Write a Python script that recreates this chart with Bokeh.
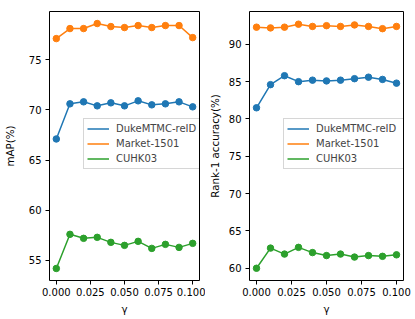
from bokeh.plotting import figure
from bokeh.layouts import row
from bokeh.models import FixedTicker, PrintfTickFormatter, Legend
from bokeh.embed import file_html
from bokeh.resources import INLINE

gamma = [0.0, 0.01, 0.02, 0.03, 0.04, 0.05, 0.06, 0.07, 0.08, 0.09, 0.10]

map_duke = [67.1, 70.6, 70.8, 70.4, 70.7, 70.4, 70.9, 70.5, 70.6, 70.8, 70.3]
map_market = [77.1, 78.1, 78.1, 78.6, 78.3, 78.2, 78.4, 78.2, 78.4, 78.4, 77.2]
map_cuhk = [54.2, 57.6, 57.2, 57.3, 56.8, 56.5, 56.9, 56.2, 56.6, 56.3, 56.7]

r1_duke = [81.5, 84.6, 85.8, 85.0, 85.2, 85.1, 85.2, 85.4, 85.6, 85.3, 84.8]
r1_market = [92.3, 92.2, 92.3, 92.7, 92.4, 92.5, 92.4, 92.6, 92.4, 92.1, 92.4]
r1_cuhk = [60.0, 62.7, 61.9, 62.8, 62.1, 61.7, 61.9, 61.5, 61.7, 61.6, 61.8]

series_names = ["DukeMTMC-reID", "Market-1501", "CUHK03"]
colors = ["#1f77b4", "#ff7f0e", "#2ca02c"]
x_ticks = [0.0, 0.025, 0.05, 0.075, 0.1]
map_ticks = [55, 60, 65, 70, 75]
r1_ticks = [60, 65, 70, 75, 80, 85, 90]

FONT = "DejaVu Sans"
FS = "10px"
FS_LABEL = "10.3px"


def make(width, border_left, border_right, yrange, yticks, ylabel, label_standoff, data):
    p = figure(width=width, height=319, x_range=(-0.005, 0.105), y_range=yrange,
               min_border_left=border_left, min_border_right=border_right,
               min_border_top=11, min_border_bottom=39,
               output_backend="svg", toolbar_location=None)
    p.grid.visible = False
    p.outline_line_color = "black"
    p.outline_line_width = 1
    p.outline_line_alpha = 1
    p.background_fill_color = "white"
    p.border_fill_color = "white"
    for ax in (p.xaxis[0], p.yaxis[0]):
        ax.axis_line_color = None
        ax.major_tick_in = 0
        ax.major_tick_out = 4
        ax.major_tick_line_color = "black"
        ax.minor_tick_line_color = None
        ax.major_label_text_font = FONT
        ax.major_label_text_font_size = FS
        ax.major_label_text_color = "black"
        ax.axis_label_text_font = FONT
        ax.axis_label_text_font_size = FS_LABEL
        ax.axis_label_text_font_style = "normal"
        ax.axis_label_text_color = "black"
    p.xaxis[0].ticker = FixedTicker(ticks=x_ticks)
    p.xaxis[0].formatter = PrintfTickFormatter(format="%.3f")
    p.xaxis[0].axis_label = "γ"
    p.xaxis[0].major_label_standoff = 3
    p.xaxis[0].axis_label_standoff = 4
    p.yaxis[0].ticker = FixedTicker(ticks=yticks)
    p.yaxis[0].axis_label = ylabel
    p.yaxis[0].major_label_standoff = 4
    p.yaxis[0].axis_label_standoff = label_standoff

    items = []
    for name, col, ys in zip(series_names, colors, data):
        r = p.line(gamma, ys, line_color=col, line_width=1.5)
        p.scatter(gamma, ys, marker="circle", size=6.5, fill_color=col, line_color=col)
        items.append((name, [r]))
    leg = Legend(items=items, location=(34, 111))
    leg.label_text_font = FONT
    leg.label_text_font_size = FS
    leg.glyph_width = 22
    leg.glyph_height = 13
    leg.label_height = 13
    leg.label_width = 86
    leg.label_standoff = 7
    leg.spacing = 2
    leg.padding = 3
    leg.margin = 0
    leg.border_line_color = "#cccccc"
    leg.border_line_alpha = 0.8
    leg.background_fill_alpha = 0.8
    p.add_layout(leg, "center")
    return p


p1 = make(205, 41, 6, (53.0, 79.8), map_ticks, "mAP(%)", 10, [map_duke, map_market, map_cuhk])
p2 = make(210, 40, 12, (58.36, 94.4), r1_ticks, "Rank-1 accuracy(%)", 5, [r1_duke, r1_market, r1_cuhk])

layout = row(p1, p2)
open("out.html", "w").write(file_html(layout, INLINE))
